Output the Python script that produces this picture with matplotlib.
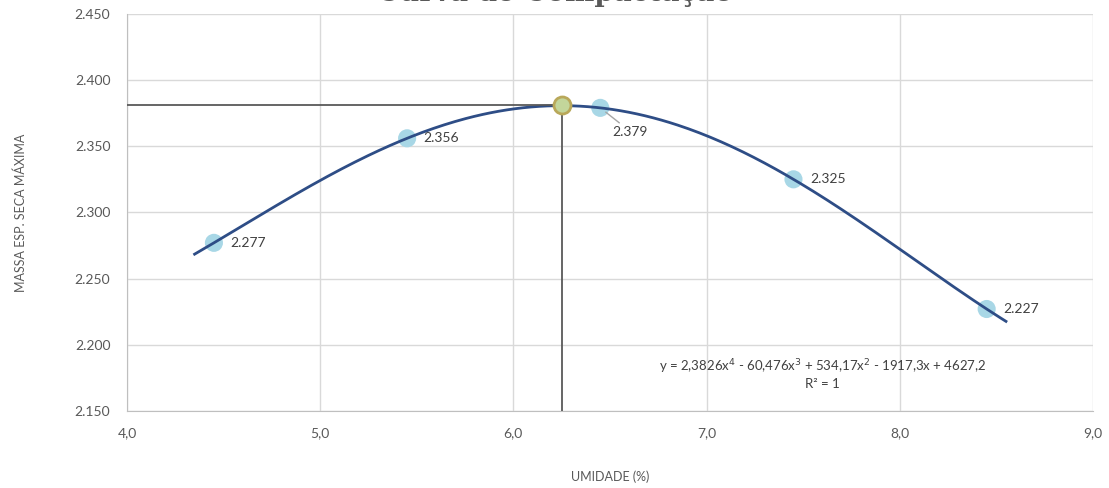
import numpy as np
import matplotlib.pyplot as plt

umidade = [4.45, 5.45, 6.45, 7.45, 8.45]
massa = [2.277, 2.356, 2.379, 2.325, 2.227]
rotulos = ['2.277', '2.356', '2.379', '2.325', '2.227']
h_otima = 6.25
massa_max = 2.381
equacao = 'y = 2,3826x$^4$ - 60,476x$^3$ + 534,17x$^2$ - 1917,3x + 4627,2'

plt.rcParams['font.family'] = ['Lato', 'DejaVu Sans']

fig = plt.figure(figsize=(11.09, 4.88), dpi=100)
ax = fig.add_axes([0.1145, 0.158, 0.871, 0.8135])

# linha de tendencia polinomial de 4o grau
coef = np.polyfit(umidade, massa, 4)
xs = np.linspace(4.35, 8.55, 300)

ax.scatter(umidade, massa, s=170, color='#a8d7e6', zorder=2, edgecolors='none')
ax.plot(xs, np.polyval(coef, xs), color='#2e4d86', lw=2, zorder=3)

ax.plot([4.0, h_otima], [massa_max, massa_max], color='#595959', lw=1.3, zorder=4)
ax.plot([h_otima, h_otima], [2.15, massa_max], color='#595959', lw=1.3, zorder=4)
ax.scatter([h_otima], [massa_max], s=150, color='#c3d69b', edgecolors='#b9a85a',
           linewidths=2, zorder=5)

for i, (x, y) in enumerate(zip(umidade, massa)):
    if i == 2:
        ax.annotate(rotulos[i], (x, y), xytext=(9, -20), textcoords='offset points',
                    fontsize=10, color='#404040',
                    arrowprops=dict(arrowstyle='-', color='#a6a6a6', lw=1,
                                    shrinkA=0, shrinkB=5))
    else:
        ax.annotate(rotulos[i], (x, y), xytext=(12, 0), textcoords='offset points',
                    fontsize=10, color='#404040', va='center')

ax.text(7.6, 2.1833, equacao, ha='center', va='center', fontsize=9.5, color='#404040')
ax.text(7.6, 2.1704, 'R² = 1', ha='center', va='center', fontsize=9.5, color='#404040')

ax.set_xlim(4, 9)
ax.set_ylim(2.15, 2.45)
ax.set_xticks(np.arange(4, 9.01, 1))
ax.set_xticklabels(['4,0', '5,0', '6,0', '7,0', '8,0', '9,0'])
ax.set_yticks(np.arange(2.15, 2.451, 0.05))
ax.set_yticklabels(['2.150', '2.200', '2.250', '2.300', '2.350', '2.400', '2.450'])
ax.grid(True, color='#d9d9d9', lw=1)
ax.set_axisbelow(True)
for s in ['top', 'right']:
    ax.spines[s].set_visible(False)
for s in ['left', 'bottom']:
    ax.spines[s].set_color('#bfbfbf')
ax.tick_params(length=0, labelsize=10, labelcolor='#595959', pad=12)

ax.set_xlabel('UMIDADE (%)', fontsize=9, color='#595959', labelpad=22)
ax.set_ylabel('MASSA ESP. SECA MÁXIMA', fontsize=9, color='#595959', labelpad=34)

# titulo cortado no topo, como na referencia
fig.text(0.5, 1 - 1 / 488, 'Curva de Compactação', ha='center', va='baseline',
         fontsize=20, family='serif', weight='bold', color='#595959')

fig.savefig('out.png', dpi=100)
